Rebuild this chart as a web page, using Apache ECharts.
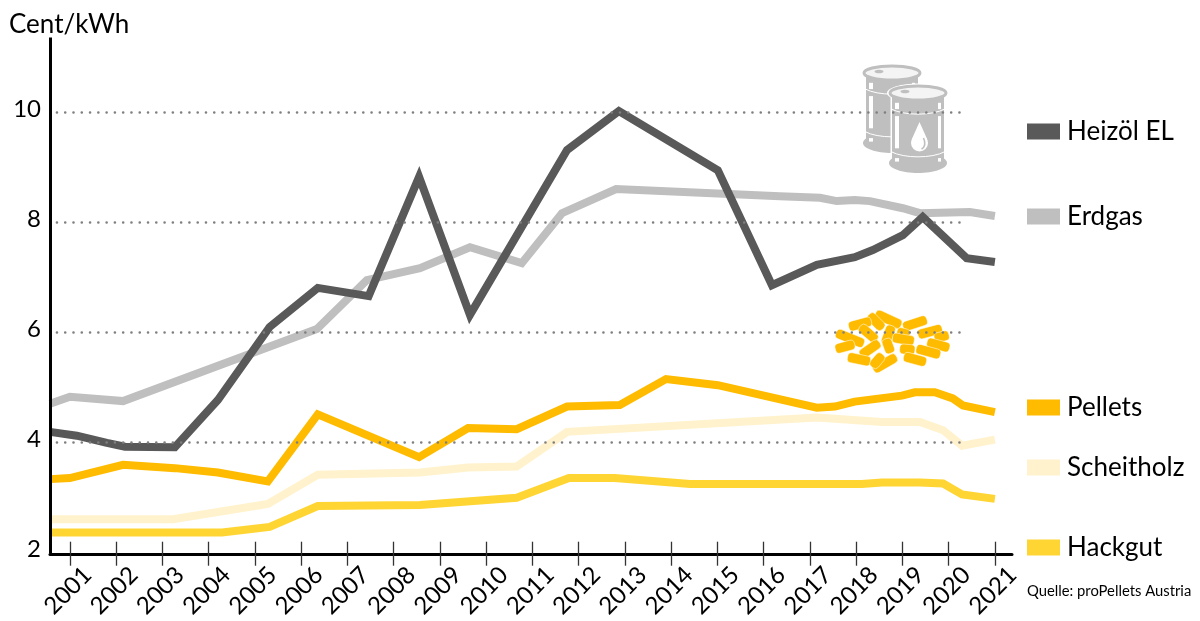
<!DOCTYPE html>
<html><head><meta charset="utf-8">
<style>html,body{margin:0;padding:0;background:#fff}#c{width:1200px;height:621px}</style>
<script src="https://cdn.jsdelivr.net/npm/echarts@6/dist/echarts.min.js"></script>
</head><body><div id="c"></div>
<script>
const years = [2001,2002,2003,2004,2005,2006,2007,2008,2009,2010,2011,2012,2013,2014,2015,2016,2017,2018,2019,2020,2021];
const yTicks = [2,4,6,8,10];
const gridValues = [4,6,8,10];

const heizoel = [[2000.57,4.19],[2001.15,4.12],[2001.80,3.99],[2002.19,3.92],[2003.27,3.91],[2004.20,4.77],[2005.32,6.10],[2006.36,6.81],[2007.46,6.66],[2008.55,8.83],[2009.65,6.32],[2011.75,9.32],[2012.87,10.03],[2015.01,8.95],[2016.18,6.86],[2017.15,7.23],[2017.97,7.37],[2018.36,7.50],[2019.01,7.77],[2019.44,8.10],[2020.39,7.35],[2021,7.28]];
const erdgas = [[2000.57,4.70],[2001,4.83],[2002.15,4.75],[2006.34,6.06],[2007.42,6.95],[2008.57,7.17],[2009.65,7.55],[2010.77,7.26],[2011.64,8.17],[2012.81,8.61],[2016.35,8.48],[2017.22,8.45],[2017.58,8.39],[2017.97,8.41],[2018.30,8.39],[2019.01,8.26],[2019.38,8.17],[2020.46,8.19],[2021,8.12]];
const pellets = [[2000.57,3.33],[2001,3.35],[2002.15,3.59],[2003.27,3.53],[2004.20,3.45],[2005.28,3.29],[2006.36,4.51],[2008.55,3.73],[2009.61,4.26],[2010.66,4.24],[2011.75,4.65],[2012.89,4.68],[2013.89,5.15],[2015.01,5.04],[2017.15,4.63],[2017.54,4.65],[2017.97,4.74],[2018.99,4.85],[2019.27,4.91],[2019.70,4.91],[2020.09,4.80],[2020.31,4.67],[2021,4.55]];
const scheitholz = [[2000.57,2.60],[2003.23,2.60],[2005.28,2.88],[2006.36,3.41],[2008.57,3.45],[2009.61,3.54],[2010.66,3.56],[2011.75,4.19],[2017.15,4.45],[2018.56,4.37],[2019.38,4.37],[2019.88,4.22],[2020.29,3.94],[2021,4.05]];
const hackgut = [[2000.57,2.36],[2004.29,2.36],[2005.32,2.46],[2006.36,2.84],[2008.57,2.86],[2010.66,2.99],[2011.79,3.35],[2012.78,3.35],[2014.41,3.24],[2018.12,3.24],[2018.56,3.27],[2019.38,3.27],[2019.88,3.25],[2020.29,3.05],[2021,2.97]];

const FONT = 'Lato';
const seriesDefs = [
  {name:'Erdgas', data:erdgas, color:'#BFBFBF', legendCenter:216},
  {name:'Heizöl EL', data:heizoel, color:'#595959', legendCenter:131},
  {name:'Hackgut', data:hackgut, color:'#FFD534', legendCenter:547},
  {name:'Scheitholz', data:scheitholz, color:'#FFF2CC', legendCenter:467},
  {name:'Pellets', data:pellets, color:'#FFBB00', legendCenter:407}
];

const chart = echarts.init(document.getElementById('c'), null, {renderer:'canvas'});

const series = seriesDefs.map(s => ({
  name:s.name, type:'line', data:s.data, symbol:'none', smooth:false, z:2,
  itemStyle:{color:s.color},
  lineStyle:{color:s.color, width:8, join:'miter', cap:'butt', miterLimit:10}
}));
series.push({
  type:'line', data:[], z:5, silent:true,
  markLine:{
    silent:true, symbol:'none', z:5, animation:false, label:{show:false},
    lineStyle:{color:'#7F7F7F', width:2.6, type:[0.01,8.27], cap:'round', opacity:1},
    emphasis:{disabled:true},
    data:gridValues.map(v => [{coord:[2000.72,v]},{coord:[2020.30,v]}])
  }
});

const legends = seriesDefs.map(s => ({
  data:[s.name], left:1027, top:s.legendCenter-18, orient:'horizontal', icon:'rect',
  itemWidth:33, itemHeight:16, selectedMode:false, padding:0,
  textStyle:{fontFamily:FONT, fontSize:26, lineHeight:32, color:'#000', padding:[5,0,0,2]}
}));

// Decorative icons
function barrel(cx, top, bottom, rx, ry, withDrop){
  const g='#BFBFBF', w='#FFFFFF', out=[];
  const L=cx-rx+2, W=2*rx-4;
  if(withDrop){
    out.push({type:'rect', shape:{x:L-1.5,y:top,width:W+3,height:bottom-top}, style:{fill:w}});
    out.push({type:'ellipse', shape:{cx:cx,cy:top,rx:rx+3,ry:ry+2.5}, style:{fill:w}});
  }
  out.push({type:'rect', shape:{x:L,y:top,width:W,height:bottom-top}, style:{fill:g}});
  out.push({type:'ellipse', shape:{cx:cx,cy:bottom,rx:rx+1,ry:ry+3}, style:{fill:g}});
  out.push({type:'ellipse', shape:{cx:cx,cy:top,rx:rx,ry:ry,}, style:{fill:'#F4F4F4', stroke:g, lineWidth:3}});
  out.push({type:'ellipse', shape:{cx:cx-13,cy:top-1.5,rx:4.5,ry:1.8}, style:{fill:g}});
  const h=bottom-top;
  [0.27,0.88].forEach(f=>{
    const y=top+h*f;
    out.push({type:'bezierCurve', shape:{x1:cx-rx+1,y1:y-3,x2:cx+rx-1,y2:y-3,cpx1:cx-rx/2,cpy1:y+4,cpx2:cx+rx/2,cpy2:y+4}, style:{stroke:w,lineWidth:1,fill:null}});
  });
  [[L+3,4],[L+W-6,3]].forEach(a=>{
    out.push({type:'rect', shape:{x:a[0],y:top+h*0.14,width:a[1],height:h*0.09}, style:{fill:w}});
    out.push({type:'rect', shape:{x:a[0],y:top+h*0.33,width:a[1],height:h*0.46}, style:{fill:w}});
    out.push({type:'rect', shape:{x:a[0],y:top+h*0.93,width:a[1],height:h*0.05}, style:{fill:w}});
  });
  if(withDrop){
    out.push({type:'circle', shape:{cx:withDrop[0],cy:withDrop[1]+21,r:8.5}, style:{fill:w}});
    out.push({type:'polygon', shape:{points:[[withDrop[0],withDrop[1]],[withDrop[0]-7.6,withDrop[1]+17],[withDrop[0]+7.6,withDrop[1]+17]]}, style:{fill:w}});
    out.push({type:'bezierCurve', shape:{x1:withDrop[0]+4,y1:withDrop[1]+16,x2:withDrop[0]+2,y2:withDrop[1]+27,cpx1:withDrop[0]+6,cpy1:withDrop[1]+20,cpx2:withDrop[0]+6,cpy2:withDrop[1]+25}, style:{stroke:g,lineWidth:1.6,fill:null}});
  }
  return out;
}
const pelletShapes = [[205,58,85,25],[168,65,60,45],[120,72,70,-15],[90,115,90,22],[75,140,60,-15],[145,100,65,40],[150,147,70,-35],[205,105,60,-70],[117,178,70,12],[195,190,80,-30],[172,182,50,-50],[205,138,46,70],[285,70,75,-18],[250,100,40,15],[330,95,75,-15],[365,110,45,-15],[250,118,66,10],[262,148,46,5],[355,135,70,15],[325,155,75,15],[285,178,70,15]];
const pelletEls = pelletShapes.map(p => ({
  type:'rect', x:820+p[0]/3, y:300+p[1]/3, rotation:-p[3]*Math.PI/180,
  shape:{x:-p[2]/6,y:-5,width:p[2]/3,height:10,r:4},
  style:{fill:'#FFBB00', stroke:'#fff', lineWidth:0.5}, z:1
}));
const barrelEls = [...barrel(892,73,143,28,7,null), ...barrel(918,93,163,28,7,[919.5,122])];

chart.setOption({
  animation:false,
  backgroundColor:'#fff',
  title:[
    {text:'Cent/kWh', left:9, top:12, padding:0, textStyle:{fontFamily:FONT,fontSize:26,fontWeight:'normal',color:'#000'}},
    {text:'Quelle: proPellets Austria', left:1027, top:584, padding:0, textStyle:{fontFamily:FONT,fontSize:14.8,fontWeight:'normal',color:'#000'}}
  ],
  legend:legends,
  grid:{left:50,right:188,top:39,bottom:68.5,containLabel:false},
  xAxis:[
    {type:'value', position:'bottom', min:2000.57, max:2021.37, offset:2.5, z:4,
     splitLine:{show:false},
     axisLine:{show:true,onZero:false,lineStyle:{color:'#000',width:3}},
     axisTick:{show:true,length:11,customValues:years,lineStyle:{color:'#333',width:1.3}},
     axisLabel:{show:true,rotate:45,align:'center',verticalAlign:'middle',margin:36,
       customValues:years.map(y=>y-0.04),
       formatter:v=>String(Math.round(v)),
       fontFamily:FONT,fontSize:24,color:'#000'}},
    {type:'value', position:'bottom', min:2000.57, max:2021.37, offset:2.5, z:4,
     splitLine:{show:false},
     axisLine:{show:false,onZero:false},
     axisLabel:{show:false},
     axisTick:{show:true,inside:true,length:13,customValues:years,lineStyle:{color:'#333',width:1.3}}}
  ],
  yAxis:{type:'value', min:2, max:11.34, z:4,
    splitLine:{show:false},
    axisTick:{show:false},
    axisLine:{show:true,onZero:false,lineStyle:{color:'#000',width:3,cap:'square'}},
    axisLabel:{customValues:yTicks,margin:9,fontFamily:FONT,fontSize:24,color:'#000',align:'right',verticalAlign:'bottom',lineHeight:6}},
  series:series,
  graphic:[{type:'group', silent:true, z:1, children:[...barrelEls, ...pelletEls]}]
});
</script></body></html>
